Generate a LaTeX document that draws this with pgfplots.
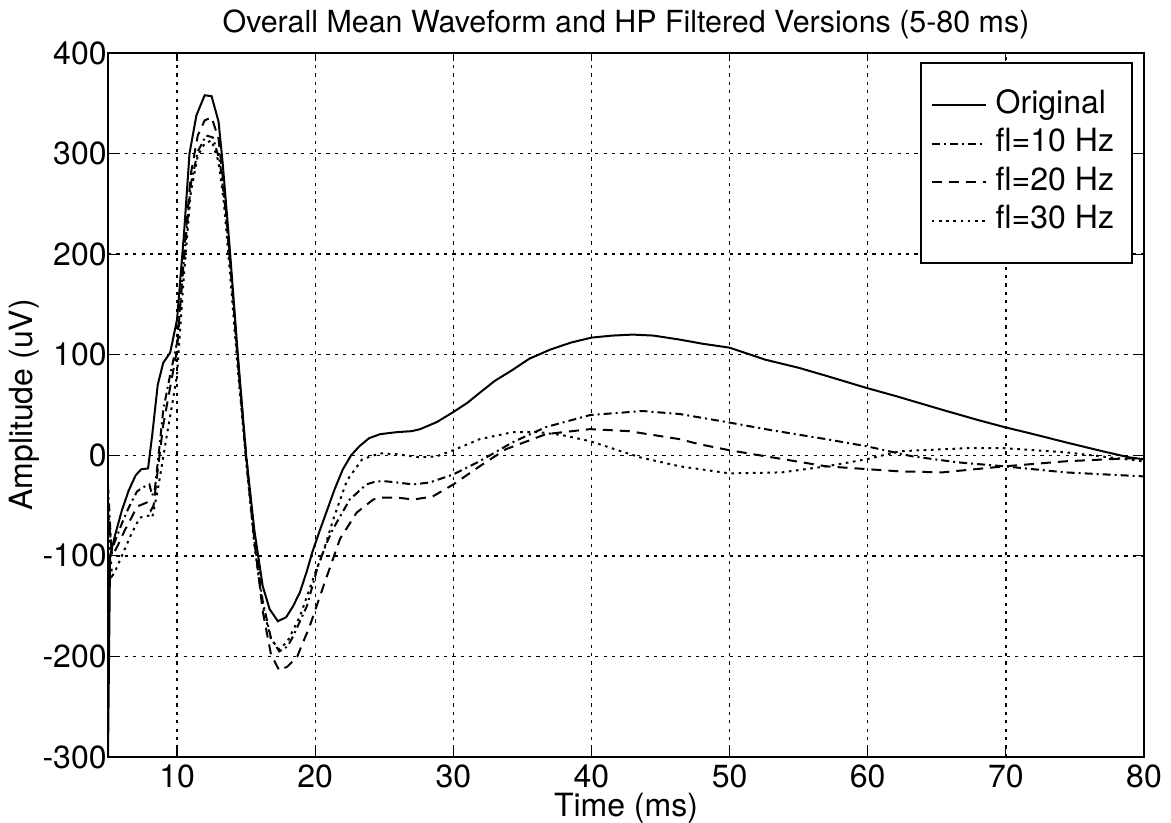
\documentclass[border=0pt]{standalone}
\usepackage{pgfplots}
\pgfplotsset{compat=1.18}
\usepackage{fontspec}
\setmainfont{TeX Gyre Heros}
\newcommand{\fs}{\fontsize{16}{19}\selectfont}
\begin{document}
\begin{tikzpicture}
\begin{axis}[
  scale only axis,
  width=518pt, height=352pt,
  xmin=5, xmax=80, ymin=-300, ymax=400,
  xtick={10,20,30,40,50,60,70,80},
  ytick={-300,-200,-100,0,100,200,300,400},
  /pgf/number format/assume math mode=true,
  tick label style={font=\fs},
  xticklabel style={inner ysep=3.5pt},
  yticklabel style={inner xsep=0.5pt},
  tick align=inside,
  major tick length=4pt,
  axis line style={line width=1pt},
  every tick/.style={black, line width=0.6pt},
  grid=major,
  major grid style={black, line width=0.7pt, dash pattern=on 1.6pt off 2.6pt},
  every axis title/.style={at={(axis description cs:0.5,1)}, anchor=base, yshift=10pt, font=\fontsize{15.2}{18}\selectfont},
  title={Overall Mean Waveform and HP Filtered Versions (5-80 ms)},
  every axis x label/.style={at={(axis description cs:0.5,-0.0511)}, anchor=north, inner sep=0pt, font=\fs},
  xlabel={Time (ms)},
  every axis y label/.style={at={(axis description cs:-0.0811,0.5)}, rotate=90, anchor=center, inner sep=0pt, font=\fs},
  ylabel={Amplitude (uV)},
  legend cell align=left,
  legend style={at={(0.9894,0.9872)}, anchor=north east, draw=black, line width=1pt, fill=white,
    font=\fs, inner xsep=5pt, inner ysep=13.5pt, row sep=4.3pt, column sep=4.5pt,
    nodes={inner sep=0pt, text height=11.5pt, text depth=3.5pt}},
  legend image code/.code={\draw[#1, line width=1pt] (0pt,0pt) -- (27pt,0pt);},
]
% Original
\addplot[black, line width=1pt] coordinates {
(5,-300)(5.15,-100)(5.5,-80)(6,-55)(6.5,-35)(7,-20)(7.4,-14)(7.9,-13)(8.2,20)(8.6,70)(9.0,92)(9.5,102)(10,135)(10.5,220)(10.9,300)(11.4,338)(12.0,358)(12.5,357)(13.0,332)(13.3,291)(13.8,208)(14.4,100)(15.0,0)(15.6,-75)(16.2,-130)(16.7,-153)(17.3,-165)(17.9,-161)(18.4,-150)(18.9,-136)(19.4,-115)(19.8,-96)(20.3,-76)(20.8,-57)(21.4,-34)(22.0,-14)(22.6,0)(23.2,9)(23.9,17)(24.7,21)(25.9,23)(27.0,24)(27.6,26)(28.8,33)(30,43)(31,52)(31.9,62)(33,74)(34.3,85)(35.5,96)(37,105)(38.5,112)(40,117)(41.5,119)(43,120)(44.5,119)(46.4,115)(48,111)(50,107)(52.6,95)(55,87)(57,79)(59.9,67)(62,59)(65.7,44)(68,35)(69.9,28)(72,21)(74.3,13)(77,4)(78.9,-2)(80,-4)
};
\addlegendentry{Original}
% fl=10
\addplot[black, line width=1pt, dash pattern=on 4pt off 2pt on 1pt off 2pt] coordinates {
(5,-30)(5.25,-95)(5.6,-82)(6,-68)(6.5,-52)(7.1,-36)(7.5,-32)(8.0,-29)(8.2,-40)(8.4,-33)(8.7,5)(9.0,45)(9.5,80)(10,112)(10.5,195)(11.0,270)(11.5,302)(12.1,318)(12.6,316)(13.1,292)(13.5,245)(14.0,165)(14.5,75)(15.0,-5)(15.6,-85)(16.2,-145)(16.8,-182)(17.4,-195)(18.0,-190)(18.4,-180)(19.4,-150)(20.2,-110)(20.8,-88)(21.3,-73)(22.5,-44)(23.7,-29)(24.4,-26)(25.2,-26)(25.9,-27)(27.1,-29)(28.3,-27)(30,-19)(31.9,-6)(34.3,13)(36.7,28)(39.9,40)(43.7,44)(46.4,41)(49.8,33)(53,25)(57,16)(59.9,9)(63.2,-1)(66.5,-7)(69.9,-11)(74.3,-17)(80,-21)
};
\addlegendentry{fl=10 Hz\hspace*{4pt}}
% fl=20
\addplot[black, line width=1pt, dash pattern=on 5pt off 3.5pt] coordinates {
(5,-55)(5.3,-100)(5.7,-90)(6.2,-75)(6.7,-62)(7.1,-51)(7.8,-47)(8.1,-55)(8.3,-50)(8.6,-15)(9.0,30)(9.6,75)(10,105)(10.5,200)(11.0,280)(11.5,318)(12.0,333)(12.5,336)(13.0,315)(13.4,265)(13.9,185)(14.4,95)(15.0,0)(15.6,-85)(16.2,-155)(16.8,-198)(17.4,-214)(18.0,-210)(18.7,-200)(19.6,-170)(20.6,-130)(21.8,-83)(23.0,-57)(24.2,-44)(24.7,-42)(25.9,-42)(27.1,-44)(28.5,-41)(30,-29)(31.9,-11)(33.8,6)(36.7,21)(39.9,26)(42.7,24)(46.4,16)(47.8,11)(50,5)(52.6,-1)(57,-11)(62.3,-16)(65.4,-17)(69.9,-11)(74.3,-6)(78.9,-3)(80,-3)
};
\addlegendentry{fl=20 Hz\hspace*{4pt}}
% fl=30
\addplot[black, line width=1pt, dash pattern=on 1.3pt off 2.3pt] coordinates {
(5,-70)(5.3,-120)(5.5,-116)(6,-100)(6.7,-78)(7.3,-62)(7.9,-60)(8.2,-62)(8.6,-35)(9.2,15)(9.7,55)(10,80)(10.5,180)(11.0,262)(11.5,298)(12.0,310)(12.5,313)(13.0,292)(13.4,250)(13.9,170)(14.4,85)(15.0,-5)(15.6,-90)(16.2,-150)(16.8,-183)(17.4,-193)(18.0,-185)(18.9,-160)(20.1,-113)(20.5,-100)(21.3,-64)(22.3,-25)(23.4,-4)(24.7,2)(25.9,1)(27.6,-2)(28.8,-1)(30,5)(31.9,16)(34.3,23)(36.2,23)(37.9,20)(39.9,14)(43.5,-2)(46.4,-11)(50,-18)(53.8,-17)(57,-11)(59.9,-4)(62.3,4)(67.1,7)(69.9,7)(74.3,3)(80,-6)
};
\addlegendentry{fl=30 Hz}
\end{axis}
\pgfresetboundingbox
\path ([xshift=-54pt,yshift=-33pt]current axis.south west) rectangle ([xshift=13.5pt,yshift=26.5pt]current axis.north east);
\end{tikzpicture}
\end{document}
